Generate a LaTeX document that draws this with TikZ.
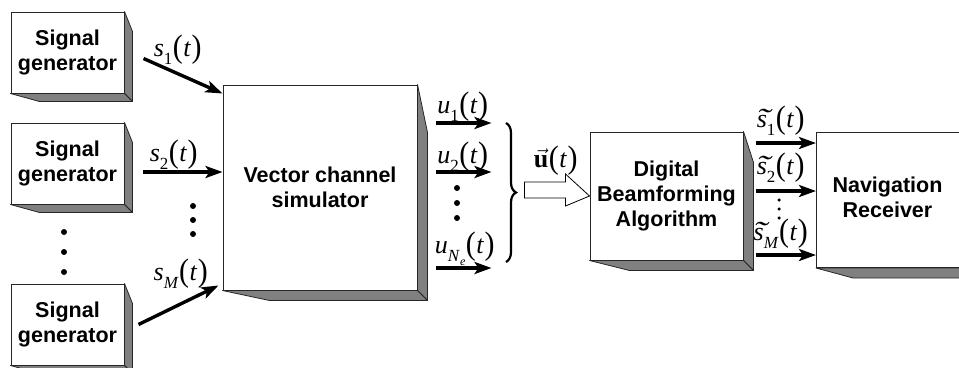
\documentclass[tikz,border=0pt]{standalone}
\usepackage{fontspec}
\setmainfont{Liberation Sans}
\newfontfamily\tms{Liberation Serif}
\usetikzlibrary{calc,arrows.meta,decorations.pathreplacing}

\newcommand{\prn}[1]{\kern0.5pt\raisebox{-0.05em}{\scalebox{1.15}[1.25]{#1}}\kern0.5pt}
\newcommand{\mlbl}[2]{{\tms\fontsize{26}{26}\selectfont\textit{#1}\raisebox{-0.3em}{\fontsize{17}{17}\selectfont #2}\prn{(}\textit{t}\prn{)}}}
\newcommand{\tils}{\ooalign{\textit{s}\cr\hidewidth\kern0.1em\raisebox{-0.04em}{\scalebox{1.6}[1.1]{\char"02DC}}\hidewidth\cr}}
\newcommand{\boxshadow}[4]{%
  \path[shd] (#1.north east) -- ++(#2,#3) -- ($(#1.south east)+(#2,#2)$) -- (#1.south east) -- cycle;
  \path[shd] (#1.south west) -- ++(#4,#2) -- ($(#1.south east)+(#2,#2)$) -- (#1.south east) -- cycle;
}

\tikzset{
  blk/.style={draw=black!85, line width=1pt, fill=white, font=\bfseries\fontsize{21.5}{25}\selectfont, align=center, inner sep=0pt},
  sig/.style={line width=3.4pt, -{Stealth[length=17pt,width=12pt,inset=4pt]}},
  shd/.style={fill=black!50, draw=black!85, line width=0.8pt, line join=round},
  lbl/.style={inner sep=0pt},
  dotm/.style={circle, fill=black, inner sep=0pt, minimum size=6pt},
  sdot/.style={circle, fill=black, inner sep=0pt, minimum size=3.5pt},
}

\begin{document}
\begin{tikzpicture}[x=1pt,y=-1pt]
\useasboundingbox (0,0) rectangle (959,367);
\clip (0,0) rectangle (959,367);

% blocks
\node[blk, minimum width=113pt, minimum height=81pt] (sg1) at (67.5,52.5) {Signal\\generator};
\node[blk, minimum width=113pt, minimum height=81pt] (sg2) at (67.5,163.5) {Signal\\generator};
\node[blk, minimum width=113pt, minimum height=81pt] (sg3) at (67.5,324.5) {Signal\\generator};
\node[blk, minimum width=194pt, minimum height=205pt] (vcs) at (320,187.5) {Vector channel\\simulator};
\node[blk, minimum width=153pt, minimum height=128pt] (dba) at (666.5,196) {Digital\\Beamforming\\Algorithm};
\node[blk, minimum width=160pt, minimum height=135pt, anchor=north west] (nr) at (816,132) {\hspace*{-18pt}\begin{tabular}{@{}c@{}}Navigation\\Receiver\end{tabular}};

\boxshadow{sg1}{8}{20}{29}
\boxshadow{sg2}{8}{20}{29}
\boxshadow{sg3}{8}{20}{29}
\boxshadow{vcs}{10}{48}{47}
\boxshadow{dba}{10}{31}{40}
\boxshadow{nr}{10}{34}{37}

% input signals
\draw[sig] ($(sg1.east)+(19,6)$) -- ($(vcs.north west)+(0,9)$);
\draw[sig] ($(sg2.east)+(18,8.5)$) coordinate (s2a) -- (s2a -| vcs.west);
\draw[sig] ($(sg3.east)+(14,0)$) -- ($(vcs.south west)+(-4,-5)$);

\node[lbl] (ls1) at (178,50) {\mlbl{s}{1}};
\node[lbl] (ls2) at (174,155) {\mlbl{s}{2}};
\node[lbl] (lsM) at (181,274) {\mlbl{s}{\textit{M}}};

\node[dotm] (ld1) at (64,232) {};
\node[dotm] (ld2) at (64,252) {};
\node[dotm] (ld3) at (64,272) {};
\node[dotm] (md1) at (193,206) {};
\node[dotm] (md2) at (193,220) {};
\node[dotm] (md3) at (193,234) {};

% outputs of channel simulator
\draw[sig] ($(vcs.east)+(18,-64.5)$) coordinate (u1a) -- ++(56,0) coordinate (u1b);
\draw[sig] ($(vcs.east)+(18,-15.5)$) coordinate (u2a) -- ++(56,0) coordinate (u2b);
\draw[sig] ($(vcs.east)+(18,80.5)$) coordinate (u3a) -- ++(56,0) coordinate (u3b);
\node[lbl] (lu1) at (463,107) {\mlbl{u}{1}};
\node[lbl] (lu2) at (463,157) {\mlbl{u}{2}};
\node[lbl] (lu3) at (465,249) {\mlbl{u}{\textit{N}\raisebox{-0.25em}{\fontsize{12}{12}\selectfont\textit{e}}}};
\node[dotm] (ud1) at (457,188) {};
\node[dotm] (ud2) at (457,203) {};
\node[dotm] (ud3) at (457,218) {};

\draw[decorate, decoration={brace, amplitude=10pt, aspect=0.5}, line width=2.2pt] (506,123) -- (506,262);

% hollow arrow
\draw[line width=0.8pt, fill=white, line join=miter] (dba.west) -- ++(-24,-22) -- ++(0,8) -- ++(-41,0) -- ++(0,16) -- ++(41,0) -- ++(0,8) -- cycle;
\node[lbl] (lu) at (556,161) {\tms\fontsize{26}{26}\selectfont$\vec{\hbox{\bfseries u}}$\prn{(}\textit{t}\prn{)}};

% beamformer outputs
\draw[sig] ($(dba.east)+(12,-53)$) coordinate (o1a) -- (o1a -| nr.west);
\draw[sig] ($(dba.east)+(12,-5)$) coordinate (o2a) -- (o2a -| nr.west);
\draw[sig] ($(dba.east)+(12,59)$) coordinate (o3a) -- (o3a -| nr.west);
\node[lbl] (lo1) at (781,121) {\mlbl{\tils}{1}};
\node[lbl] (lo2) at (781,168) {\mlbl{\tils}{2}};
\node[lbl] (lo3) at (781,234) {\mlbl{\tils}{\textit{M}}};
\node[sdot] (od1) at (779,200) {};
\node[sdot] (od2) at (779,209) {};
\node[sdot] (od3) at (779,218) {};
\end{tikzpicture}
\end{document}
